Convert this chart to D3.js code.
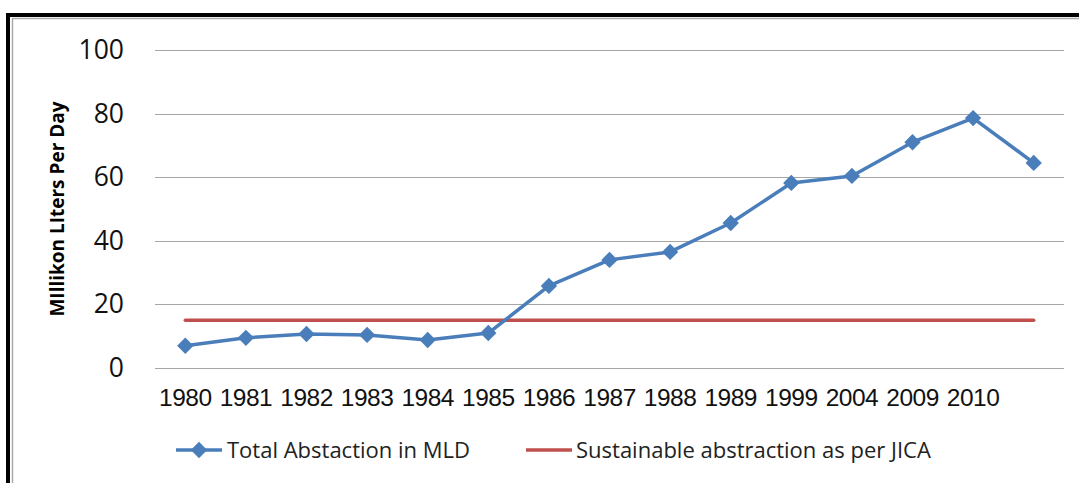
<!DOCTYPE html>
<html>
<head>
<meta charset="utf-8">
<script src="https://cdn.jsdelivr.net/npm/d3@7"></script>
<style>
  body { margin: 0; background: #fff; }
  svg { display: block; }
</style>
</head>
<body>
<div id="chart"></div>
<script>
// categories (last one has no label in the original)
var years = ["1980", "1981", "1982", "1983", "1984", "1985", "1986", "1987", "1988", "1989", "1999", "2004", "2009", "2010", ""];
var totalAbstraction = [7, 9.5, 10.7, 10.4, 8.8, 11, 25.8, 34, 36.5, 45.6, 58.2, 60.4, 71, 78.6, 64.5];
var sustainable = 15;
var yTicks = [0, 20, 40, 60, 80, 100];

var width = 1079, height = 483;
var svg = d3.select("#chart").append("svg")
    .attr("width", width)
    .attr("height", height);

// frame
svg.append("rect").attr("x", 6).attr("y", 13).attr("width", width).attr("height", 4).attr("fill", "#000");
svg.append("rect").attr("x", 6).attr("y", 13).attr("width", 4).attr("height", height).attr("fill", "#000");
svg.append("line").attr("x1", 12).attr("x2", width).attr("y1", 18.5).attr("y2", 18.5).attr("stroke", "#aaa").attr("stroke-width", 1.5);
svg.append("line").attr("x1", 12.5).attr("x2", 12.5).attr("y1", 18).attr("y2", height).attr("stroke", "#aaa").attr("stroke-width", 1.5);

var plotL = 155, plotR = 1064, plotT = 50, plotB = 368;

var x = d3.scaleBand().domain(d3.range(years.length)).range([plotL, plotR]);
var y = d3.scaleLinear().domain([0, 100]).range([plotB, plotT]);

// gridlines
svg.append("g").selectAll("line")
    .data(yTicks)
    .enter().append("line")
    .attr("x1", plotL).attr("x2", plotR)
    .attr("y1", function (d) { return Math.round(y(d)) + 0.5; })
    .attr("y2", function (d) { return Math.round(y(d)) + 0.5; })
    .attr("stroke", "#a6a6a6")
    .attr("stroke-width", 1.2);

// y axis labels
var yAxis = d3.axisLeft(y).tickValues(yTicks).tickSize(0).tickPadding(0);
var gy = svg.append("g").attr("transform", "translate(124,0)").call(yAxis);
gy.select(".domain").remove();
gy.selectAll("text")
    .attr("font-family", "'Open Sans', 'Noto Sans', sans-serif")
    .attr("font-size", "26.5px")
    .attr("fill", "#111");

// x axis labels
var xAxis = d3.axisBottom(x).tickFormat(function (i) { return years[i]; }).tickSize(0).tickPadding(0);
var gx = svg.append("g").attr("transform", "translate(0,388)").call(xAxis);
gx.select(".domain").remove();
gx.selectAll("text")
    .attr("font-family", "'Liberation Sans', Arial, sans-serif")
    .attr("font-size", "24.5px")
    .attr("letter-spacing", "-0.5px")
    .attr("dy", "0.75em")
    .attr("fill", "#111");

// y title
svg.append("text")
    .attr("transform", "translate(64,209) rotate(-90)")
    .attr("text-anchor", "middle")
    .attr("font-family", "'Open Sans', 'Noto Sans', sans-serif")
    .attr("font-weight", "bold")
    .attr("font-size", "19px")
    .attr("fill", "#000")
    .text("MIllikon LIters Per Day");

var cx = function (i) { return x(i) + x.bandwidth() / 2; };

// sustainable line
svg.append("line")
    .attr("x1", cx(0)).attr("x2", cx(years.length - 1))
    .attr("y1", y(sustainable)).attr("y2", y(sustainable))
    .attr("stroke", "#c0504d")
    .attr("stroke-width", 3.5)
    .attr("stroke-linecap", "round");

// total abstraction line
var line = d3.line()
    .x(function (d, i) { return cx(i); })
    .y(function (d) { return y(d); });

svg.append("path")
    .datum(totalAbstraction)
    .attr("d", line)
    .attr("fill", "none")
    .attr("stroke", "#4a7ebb")
    .attr("stroke-width", 3.5)
    .attr("stroke-linejoin", "round");

var diamond = d3.symbol().type(d3.symbolDiamond2).size(170);
svg.selectAll(".pt")
    .data(totalAbstraction)
    .enter().append("path")
    .attr("class", "pt")
    .attr("d", diamond)
    .attr("transform", function (d, i) { return "translate(" + cx(i) + "," + y(d) + ")"; })
    .attr("fill", "#4a7ebb");

// legend
var lg = svg.append("g").attr("font-family", "'Open Sans', 'Noto Sans', sans-serif").attr("font-size", "22px").attr("fill", "#222");
lg.append("line").attr("x1", 176).attr("x2", 222).attr("y1", 450).attr("y2", 450)
    .attr("stroke", "#4a7ebb").attr("stroke-width", 3.5);
lg.append("path").attr("d", diamond).attr("transform", "translate(199,450)").attr("fill", "#4a7ebb");
lg.append("text").attr("x", 227).attr("y", 458).text("Total Abstaction in MLD");
lg.append("line").attr("x1", 526).attr("x2", 572).attr("y1", 450).attr("y2", 450)
    .attr("stroke", "#c0504d").attr("stroke-width", 3.5);
lg.append("text").attr("x", 576).attr("y", 458).text("Sustainable abstraction as per JICA");
</script>
</body>
</html>
